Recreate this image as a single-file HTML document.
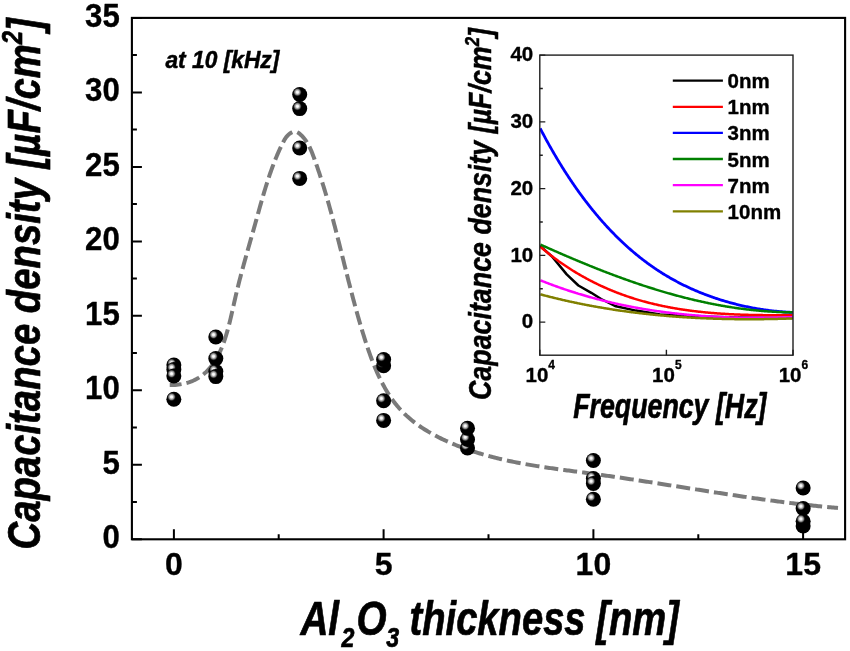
<!DOCTYPE html>
<html><head><meta charset="utf-8"><style>
html,body{margin:0;padding:0;background:#fff;}
body{width:850px;height:651px;overflow:hidden;}
svg{display:block;will-change:transform;}
text{font-family:"Liberation Sans",sans-serif;font-weight:bold;fill:#000;stroke:#000;stroke-width:0.35px;stroke-linejoin:round;}
</style></head><body>
<svg width="850" height="651" viewBox="0 0 850 651">
<defs>
<radialGradient id="hl" cx="0.5" cy="0.5" r="0.5">
<stop offset="0" stop-color="#fff" stop-opacity="1"/>
<stop offset="0.25" stop-color="#f2f2f2" stop-opacity="1"/>
<stop offset="0.62" stop-color="#aaa" stop-opacity="0.75"/>
<stop offset="1" stop-color="#000" stop-opacity="0"/>
</radialGradient>
<g id="mk"><circle r="7.5" fill="#000"/><circle cx="-2.3" cy="-2.3" r="4.6" fill="url(#hl)"/></g>
</defs>
<rect width="850" height="651" fill="#fff"/>

<path d="M169.73,385.06 L171.57,385.06 L173.38,385.00 L175.15,384.90 L176.88,384.76 L178.57,384.58 L180.22,384.35 L181.84,384.08 L183.42,383.77 L184.96,383.42 L186.47,383.03 L187.94,382.60 L189.38,382.14 L190.78,381.63 L192.15,381.09 L193.49,380.51 L194.79,379.90 L196.07,379.25 L197.31,378.57 L198.52,377.85 L199.70,377.10 L200.85,376.32 L201.97,375.50 L203.06,374.66 L204.13,373.78 L205.17,372.88 L206.18,371.94 L207.16,370.98 L208.12,369.99 L209.05,368.97 L209.96,367.93 L210.84,366.86 L211.70,365.77 L212.54,364.65 L213.35,363.50 L214.14,362.34 L214.91,361.15 L215.66,359.94 L216.39,358.71 L217.10,357.46 L217.78,356.18 L218.45,354.89 L219.11,353.58 L219.74,352.26 L220.35,350.91 L220.95,349.55 L221.54,348.17 L222.10,346.78 L222.66,345.38 L223.19,343.96 L223.72,342.52 L224.23,341.08 L224.72,339.62 L225.21,338.15 L225.68,336.67 L226.14,335.18 L226.59,333.68 L227.03,332.18 L227.46,330.66 L227.88,329.14 L228.30,327.61 L228.70,326.07 L229.10,324.53 L229.49,322.99 L229.87,321.44 L230.25,319.89 L230.62,318.34 L230.98,316.78 L231.35,315.22 L231.70,313.66 L232.06,312.11 L232.41,310.55 L232.76,308.99 L233.11,307.44 L233.46,305.89 L233.80,304.34 L234.15,302.80 L234.50,301.26 L234.85,299.72 L235.20,298.19 L235.55,296.67 L235.90,295.16 L236.26,293.65 L236.62,292.15 L236.98,290.65 L237.34,289.16 L237.70,287.68 L238.07,286.20 L238.43,284.72 L238.80,283.25 L239.17,281.79 L239.55,280.33 L239.92,278.88 L240.30,277.43 L240.67,275.98 L241.05,274.54 L241.43,273.10 L241.82,271.66 L242.20,270.23 L242.58,268.80 L242.97,267.37 L243.36,265.95 L243.74,264.53 L244.13,263.11 L244.52,261.69 L244.91,260.28 L245.31,258.86 L245.70,257.45 L246.09,256.04 L246.49,254.63 L246.88,253.22 L247.28,251.81 L247.68,250.41 L248.08,249.00 L248.47,247.59 L248.87,246.19 L249.27,244.78 L249.67,243.37 L250.07,241.96 L250.47,240.55 L250.87,239.14 L251.28,237.73 L251.68,236.32 L252.08,234.90 L252.48,233.49 L252.88,232.07 L253.29,230.65 L253.69,229.23 L254.09,227.80 L254.49,226.37 L254.89,224.94 L255.29,223.51 L255.70,222.07 L256.10,220.63 L256.50,219.18 L256.90,217.74 L257.30,216.29 L257.71,214.83 L258.11,213.38 L258.51,211.92 L258.92,210.47 L259.33,209.01 L259.74,207.54 L260.15,206.08 L260.56,204.62 L260.98,203.15 L261.39,201.69 L261.81,200.22 L262.23,198.75 L262.66,197.29 L263.09,195.82 L263.52,194.35 L263.95,192.89 L264.39,191.42 L264.83,189.96 L265.28,188.49 L265.72,187.03 L266.18,185.57 L266.64,184.11 L267.10,182.65 L267.57,181.20 L268.04,179.74 L268.51,178.29 L269.00,176.84 L269.48,175.40 L269.98,173.95 L270.48,172.51 L270.98,171.07 L271.49,169.64 L272.01,168.21 L272.53,166.78 L273.07,165.36 L273.60,163.94 L274.15,162.53 L274.70,161.12 L275.26,159.71 L275.82,158.31 L276.40,156.92 L276.98,155.53 L277.57,154.15 L278.17,152.77 L278.78,151.39 L279.39,150.03 L280.02,148.67 L280.65,147.31 L281.29,145.97 L281.95,144.63 L282.61,143.29 L283.28,141.97 L283.98,140.65 L284.72,139.36 L285.54,138.09 L286.47,136.85 L287.52,135.66 L288.71,134.52 L290.02,133.49 L291.40,132.64 L292.83,132.03 L294.26,131.72 L295.65,131.78 L296.99,132.18 L298.27,132.84 L299.50,133.70 L300.67,134.68 L301.77,135.72 L302.82,136.81 L303.81,137.94 L304.74,139.10 L305.63,140.30 L306.47,141.54 L307.27,142.80 L308.02,144.10 L308.74,145.42 L309.42,146.76 L310.08,148.12 L310.70,149.51 L311.30,150.91 L311.88,152.32 L312.45,153.74 L312.99,155.18 L313.53,156.61 L314.06,158.05 L314.58,159.50 L315.09,160.94 L315.61,162.38 L316.11,163.82 L316.62,165.27 L317.12,166.71 L317.61,168.16 L318.10,169.60 L318.59,171.04 L319.07,172.49 L319.55,173.93 L320.02,175.38 L320.50,176.82 L320.96,178.27 L321.43,179.72 L321.89,181.16 L322.34,182.61 L322.80,184.05 L323.24,185.50 L323.69,186.95 L324.13,188.40 L324.57,189.84 L325.01,191.29 L325.44,192.74 L325.87,194.19 L326.30,195.63 L326.72,197.08 L327.15,198.53 L327.56,199.98 L327.98,201.43 L328.39,202.88 L328.80,204.33 L329.21,205.78 L329.62,207.23 L330.02,208.68 L330.42,210.13 L330.82,211.58 L331.22,213.03 L331.61,214.48 L332.01,215.94 L332.40,217.39 L332.79,218.84 L333.17,220.29 L333.56,221.74 L333.94,223.20 L334.32,224.65 L334.71,226.10 L335.08,227.55 L335.46,229.01 L335.84,230.46 L336.21,231.91 L336.59,233.37 L336.96,234.82 L337.33,236.27 L337.70,237.73 L338.07,239.18 L338.44,240.64 L338.81,242.09 L339.17,243.55 L339.54,245.00 L339.90,246.46 L340.27,247.91 L340.63,249.37 L341.00,250.82 L341.36,252.28 L341.72,253.73 L342.09,255.19 L342.45,256.65 L342.81,258.10 L343.18,259.56 L343.54,261.02 L343.90,262.47 L344.26,263.93 L344.63,265.39 L344.99,266.84 L345.36,268.30 L345.72,269.76 L346.08,271.22 L346.45,272.67 L346.82,274.13 L347.18,275.59 L347.55,277.05 L347.92,278.51 L348.29,279.96 L348.66,281.42 L349.03,282.88 L349.40,284.34 L349.78,285.80 L350.15,287.26 L350.53,288.72 L350.90,290.18 L351.28,291.64 L351.66,293.09 L352.05,294.55 L352.43,296.01 L352.81,297.47 L353.20,298.93 L353.59,300.39 L353.98,301.85 L354.37,303.31 L354.77,304.77 L355.17,306.23 L355.57,307.69 L355.97,309.15 L356.37,310.61 L356.78,312.07 L357.18,313.53 L357.60,314.99 L358.01,316.46 L358.43,317.92 L358.84,319.38 L359.27,320.84 L359.69,322.30 L360.12,323.76 L360.55,325.22 L360.98,326.68 L361.42,328.14 L361.86,329.60 L362.30,331.07 L362.75,332.53 L363.20,333.99 L363.65,335.45 L364.10,336.91 L364.56,338.37 L365.03,339.83 L365.50,341.30 L365.97,342.76 L366.44,344.21 L366.93,345.67 L367.41,347.13 L367.90,348.59 L368.40,350.04 L368.90,351.49 L369.41,352.94 L369.92,354.38 L370.44,355.83 L370.97,357.27 L371.50,358.70 L372.05,360.14 L372.59,361.57 L373.15,362.99 L373.71,364.41 L374.28,365.83 L374.86,367.24 L375.45,368.64 L376.05,370.04 L376.65,371.43 L377.27,372.82 L377.89,374.20 L378.53,375.58 L379.17,376.95 L379.83,378.31 L380.49,379.66 L381.16,381.01 L381.85,382.35 L382.55,383.68 L383.25,385.00 L383.97,386.31 L384.71,387.62 L385.45,388.91 L386.20,390.20 L386.97,391.47 L387.75,392.74 L388.55,394.00 L389.35,395.24 L390.17,396.48 L391.01,397.70 L391.86,398.92 L392.72,400.12 L393.59,401.31 L394.48,402.49 L395.39,403.65 L396.31,404.81 L397.25,405.95 L398.20,407.07 L399.17,408.19 L400.15,409.29 L401.15,410.38 L402.16,411.45 L403.20,412.51 L404.25,413.56 L405.31,414.59 L406.40,415.60 L407.49,416.61 L408.61,417.59 L409.74,418.57 L410.88,419.53 L412.04,420.48 L413.21,421.41 L414.39,422.33 L415.59,423.24 L416.80,424.13 L418.03,425.01 L419.26,425.88 L420.51,426.74 L421.77,427.58 L423.03,428.41 L424.31,429.23 L425.60,430.04 L426.90,430.83 L428.21,431.61 L429.52,432.39 L430.85,433.15 L432.18,433.89 L433.52,434.63 L434.87,435.36 L436.22,436.07 L437.58,436.78 L438.95,437.47 L440.32,438.16 L441.70,438.83 L443.08,439.49 L444.46,440.14 L445.85,440.79 L447.25,441.42 L448.65,442.04 L450.05,442.65 L451.45,443.26 L452.85,443.85 L454.26,444.44 L455.67,445.02 L457.08,445.58 L458.49,446.14 L459.91,446.69 L461.33,447.23 L462.75,447.76 L464.17,448.29 L465.59,448.80 L467.02,449.31 L468.45,449.81 L469.88,450.30 L471.31,450.78 L472.74,451.26 L474.18,451.73 L475.62,452.19 L477.05,452.64 L478.50,453.09 L479.94,453.52 L481.38,453.96 L482.83,454.38 L484.28,454.80 L485.73,455.21 L487.18,455.61 L488.63,456.01 L490.09,456.40 L491.54,456.78 L493.00,457.16 L494.46,457.53 L495.92,457.90 L497.38,458.25 L498.84,458.61 L500.31,458.96 L501.77,459.30 L503.24,459.63 L504.71,459.97 L506.18,460.29 L507.65,460.61 L509.13,460.93 L510.60,461.24 L512.07,461.54 L513.55,461.84 L515.03,462.14 L516.51,462.43 L517.99,462.72 L519.47,463.00 L520.95,463.28 L522.43,463.56 L523.91,463.83 L525.40,464.09 L526.88,464.35 L528.37,464.61 L529.86,464.87 L531.35,465.12 L532.84,465.37 L534.33,465.61 L535.82,465.86 L537.31,466.10 L538.80,466.33 L540.29,466.57 L541.79,466.80 L543.28,467.02 L544.77,467.25 L546.27,467.47 L547.77,467.69 L549.26,467.91 L550.76,468.13 L552.26,468.34 L553.75,468.55 L555.25,468.77 L556.75,468.97 L558.25,469.18 L559.75,469.39 L561.25,469.59 L562.75,469.80 L564.25,470.00 L565.75,470.20 L567.25,470.40 L568.75,470.60 L570.25,470.80 L571.76,471.00 L573.26,471.20 L574.76,471.40 L576.26,471.59 L577.76,471.79 L579.27,471.99 L580.77,472.19 L582.27,472.38 L583.77,472.58 L585.27,472.78 L586.77,472.98 L588.28,473.18 L589.78,473.38 L591.28,473.58 L592.78,473.78 L594.28,473.99 L595.78,474.19 L597.28,474.40 L598.78,474.60 L600.28,474.81 L601.78,475.02 L603.28,475.23 L604.78,475.44 L606.28,475.65 L607.77,475.86 L609.27,476.08 L610.77,476.29 L612.27,476.50 L613.77,476.72 L615.26,476.94 L616.76,477.16 L618.26,477.37 L619.75,477.59 L621.25,477.81 L622.75,478.03 L624.24,478.26 L625.74,478.48 L627.24,478.70 L628.73,478.92 L630.23,479.15 L631.72,479.37 L633.22,479.60 L634.71,479.83 L636.21,480.05 L637.70,480.28 L639.20,480.51 L640.69,480.74 L642.19,480.97 L643.68,481.19 L645.17,481.42 L646.67,481.65 L648.16,481.89 L649.66,482.12 L651.15,482.35 L652.64,482.58 L654.14,482.81 L655.63,483.05 L657.12,483.28 L658.62,483.51 L660.11,483.75 L661.60,483.98 L663.09,484.21 L664.59,484.45 L666.08,484.68 L667.57,484.92 L669.06,485.15 L670.56,485.39 L672.05,485.62 L673.54,485.86 L675.03,486.09 L676.52,486.33 L678.02,486.56 L679.51,486.80 L681.00,487.03 L682.49,487.27 L683.98,487.50 L685.47,487.74 L686.97,487.97 L688.46,488.21 L689.95,488.44 L691.44,488.68 L692.93,488.91 L694.42,489.15 L695.91,489.38 L697.41,489.62 L698.90,489.85 L700.39,490.08 L701.88,490.32 L703.37,490.55 L704.86,490.78 L706.35,491.02 L707.85,491.25 L709.34,491.48 L710.83,491.71 L712.32,491.94 L713.81,492.17 L715.30,492.40 L716.79,492.63 L718.29,492.86 L719.78,493.09 L721.27,493.32 L722.76,493.55 L724.25,493.78 L725.74,494.00 L727.24,494.23 L728.73,494.45 L730.22,494.68 L731.71,494.90 L733.20,495.13 L734.69,495.35 L736.19,495.57 L737.68,495.79 L739.17,496.01 L740.66,496.23 L742.16,496.45 L743.65,496.67 L745.14,496.89 L746.63,497.11 L748.13,497.32 L749.62,497.54 L751.11,497.75 L752.61,497.96 L754.10,498.18 L755.59,498.39 L757.09,498.60 L758.58,498.81 L760.07,499.01 L761.57,499.22 L763.06,499.43 L764.55,499.63 L766.05,499.84 L767.54,500.04 L769.04,500.24 L770.53,500.44 L772.03,500.64 L773.52,500.84 L775.02,501.04 L776.51,501.23 L778.01,501.43 L779.50,501.62 L781.00,501.81 L782.49,502.00 L783.99,502.19 L785.49,502.38 L786.98,502.57 L788.48,502.75 L789.98,502.94 L791.47,503.12 L792.97,503.30 L794.47,503.48 L795.97,503.66 L797.46,503.84 L798.96,504.01 L800.46,504.18 L801.96,504.36 L803.46,504.53 L804.96,504.70 L806.46,504.86 L807.96,505.03 L809.46,505.19 L810.95,505.36 L812.46,505.52 L813.96,505.68 L815.46,505.83 L816.96,505.99 L818.46,506.14 L819.96,506.29 L821.46,506.44 L822.96,506.59 L824.47,506.74 L825.97,506.88 L827.47,507.03 L828.97,507.17 L830.48,507.31 L831.98,507.44 L833.48,507.58 L834.99,507.71 L836.49,507.84 L838.00,507.97" fill="none" stroke="#7a7a7a" stroke-width="4.0" stroke-dasharray="14 5.04" stroke-dashoffset="2.14"/>
<use href="#mk" x="173.85" y="365.00"/>
<use href="#mk" x="173.85" y="369.50"/>
<use href="#mk" x="173.85" y="376.00"/>
<use href="#mk" x="173.85" y="399.20"/>
<use href="#mk" x="215.81" y="337.00"/>
<use href="#mk" x="215.81" y="358.60"/>
<use href="#mk" x="215.81" y="371.50"/>
<use href="#mk" x="215.81" y="376.60"/>
<use href="#mk" x="299.71" y="94.50"/>
<use href="#mk" x="299.71" y="108.60"/>
<use href="#mk" x="299.71" y="148.00"/>
<use href="#mk" x="299.71" y="178.40"/>
<use href="#mk" x="383.62" y="420.40"/>
<use href="#mk" x="383.62" y="400.80"/>
<use href="#mk" x="383.62" y="365.70"/>
<use href="#mk" x="383.62" y="359.60"/>
<use href="#mk" x="467.52" y="448.00"/>
<use href="#mk" x="467.52" y="439.50"/>
<use href="#mk" x="467.52" y="428.20"/>
<use href="#mk" x="593.38" y="460.50"/>
<use href="#mk" x="593.38" y="478.50"/>
<use href="#mk" x="593.38" y="483.50"/>
<use href="#mk" x="593.38" y="499.30"/>
<use href="#mk" x="803.15" y="488.00"/>
<use href="#mk" x="803.15" y="508.50"/>
<use href="#mk" x="803.15" y="526.00"/>
<use href="#mk" x="803.15" y="521.20"/>
<rect x="131.9" y="17.9" width="713.2" height="521.4" fill="none" stroke="#000" stroke-width="2.1"/>
<path d="M131.9,539.3h10 M131.9,464.8h10 M131.9,390.3h10 M131.9,315.8h10 M131.9,241.4h10 M131.9,166.9h10 M131.9,92.4h10 M131.9,17.9h10 M131.9,502.1h5 M131.9,427.6h5 M131.9,353.1h5 M131.9,278.6h5 M131.9,204.1h5 M131.9,129.6h5 M131.9,55.1h5 M173.9,539.3v-10 M383.6,539.3v-10 M593.4,539.3v-10 M803.1,539.3v-10 M278.7,539.3v-5 M488.5,539.3v-5 M698.3,539.3v-5" stroke="#000" stroke-width="2" fill="none"/>
<g transform="translate(119.80,548.10) scale(0.96,1)"><text x="0" y="0" font-size="32.5" text-anchor="end">0</text></g>
<g transform="translate(119.80,473.61) scale(0.96,1)"><text x="0" y="0" font-size="32.5" text-anchor="end">5</text></g>
<g transform="translate(119.80,399.13) scale(0.96,1)"><text x="0" y="0" font-size="32.5" text-anchor="end">10</text></g>
<g transform="translate(119.80,324.64) scale(0.96,1)"><text x="0" y="0" font-size="32.5" text-anchor="end">15</text></g>
<g transform="translate(119.80,250.16) scale(0.96,1)"><text x="0" y="0" font-size="32.5" text-anchor="end">20</text></g>
<g transform="translate(119.80,175.67) scale(0.96,1)"><text x="0" y="0" font-size="32.5" text-anchor="end">25</text></g>
<g transform="translate(119.80,101.19) scale(0.96,1)"><text x="0" y="0" font-size="32.5" text-anchor="end">30</text></g>
<g transform="translate(119.80,26.70) scale(0.96,1)"><text x="0" y="0" font-size="32.5" text-anchor="end">35</text></g>
<g transform="translate(173.85,575.00) scale(1,1)"><text x="0" y="0" font-size="32" text-anchor="middle">0</text></g>
<g transform="translate(383.62,575.00) scale(1,1)"><text x="0" y="0" font-size="32" text-anchor="middle">5</text></g>
<g transform="translate(593.38,575.00) scale(1,1)"><text x="0" y="0" font-size="32" text-anchor="middle">10</text></g>
<g transform="translate(803.15,575.00) scale(1,1)"><text x="0" y="0" font-size="32" text-anchor="middle">15</text></g>
<g transform="translate(165.40,67.50) scale(0.938,1)"><text x="0" y="0" font-size="24.3" font-style="italic" style="stroke-width:0.5px">at 10 [kHz]</text></g>
<g transform="translate(300.40,635.00) scale(0.815,1)"><text x="0" y="0" font-size="47.5" font-style="italic" style="stroke-width:0.7px">Al<tspan font-size="28.5" dy="11.6" dx="3.0">2</tspan><tspan dy="-11.6" dx="2.5">O</tspan><tspan font-size="28.5" dy="11.6" dx="-0.5">3</tspan></text></g>
<g transform="translate(409.50,635.00) scale(0.804,1)"><text x="0" y="0" font-size="47.5" font-style="italic" style="stroke-width:0.7px">thickness [nm]</text></g>
<g transform="translate(39.60,549.50) rotate(-90) scale(0.824,1)"><text x="0" y="0" font-size="46.5" font-style="italic" style="stroke-width:0.7px">Capacitance density [µF/cm<tspan font-size="29" dy="-17.2">2</tspan><tspan dy="17.2">]</tspan></text></g>
<clipPath id="ic"><rect x="539.8" y="55.1" width="253.2" height="300.1"/></clipPath>
<g clip-path="url(#ic)">
<path d="M540.3,246.1 L552,256.5 L566.7,274.4 L578.4,285.5 L591.3,292.8 L601.1,299 L615.9,306.3 L636,310.6 L660,314.4 L700,316.5 L740,317.4 L792.7,318" fill="none" stroke="#000000" stroke-width="2.5" stroke-linejoin="round"/>
<path d="M540.37,246.75 L541.07,247.35 L541.77,247.95 L542.47,248.54 L543.17,249.13 L543.88,249.72 L544.59,250.31 L545.30,250.89 L546.01,251.47 L546.72,252.05 L547.43,252.63 L548.15,253.20 L548.87,253.77 L549.58,254.34 L550.30,254.90 L551.03,255.46 L551.75,256.02 L552.47,256.57 L553.20,257.12 L553.93,257.67 L554.66,258.22 L555.39,258.76 L556.12,259.30 L556.85,259.84 L557.59,260.37 L558.32,260.91 L559.06,261.43 L559.80,261.96 L560.54,262.48 L561.28,263.00 L562.03,263.52 L562.77,264.03 L563.52,264.55 L564.27,265.05 L565.01,265.56 L565.77,266.06 L566.52,266.56 L567.27,267.06 L568.03,267.56 L568.78,268.05 L569.54,268.54 L570.30,269.02 L571.06,269.50 L571.82,269.98 L572.58,270.46 L573.35,270.94 L574.11,271.41 L574.88,271.88 L575.65,272.34 L576.42,272.81 L577.19,273.27 L577.96,273.72 L578.73,274.18 L579.51,274.63 L580.29,275.08 L581.06,275.53 L581.84,275.97 L582.62,276.41 L583.40,276.85 L584.18,277.28 L584.97,277.71 L585.75,278.14 L586.54,278.57 L587.33,278.99 L588.12,279.41 L588.91,279.83 L589.70,280.25 L590.49,280.66 L591.28,281.07 L592.08,281.48 L592.87,281.88 L593.67,282.28 L594.47,282.68 L595.27,283.08 L596.07,283.47 L596.87,283.86 L597.67,284.25 L598.47,284.63 L599.28,285.01 L600.09,285.39 L600.89,285.77 L601.70,286.14 L602.51,286.51 L603.32,286.88 L604.13,287.25 L604.95,287.61 L605.76,287.97 L606.57,288.33 L607.39,288.68 L608.21,289.03 L609.03,289.38 L609.85,289.73 L610.67,290.07 L611.49,290.41 L612.31,290.75 L613.13,291.08 L613.96,291.41 L614.78,291.74 L615.61,292.07 L616.44,292.39 L617.26,292.72 L618.09,293.03 L618.92,293.35 L619.76,293.66 L620.59,293.97 L621.42,294.28 L622.26,294.59 L623.09,294.89 L623.93,295.19 L624.76,295.48 L625.60,295.78 L626.44,296.07 L627.28,296.36 L628.12,296.64 L628.96,296.93 L629.81,297.21 L630.65,297.48 L631.49,297.76 L632.34,298.03 L633.19,298.30 L634.03,298.57 L634.88,298.83 L635.73,299.09 L636.58,299.35 L637.43,299.61 L638.28,299.86 L639.13,300.11 L639.99,300.36 L640.84,300.61 L641.69,300.85 L642.55,301.09 L643.41,301.33 L644.26,301.56 L645.12,301.80 L645.98,302.03 L646.84,302.25 L647.70,302.48 L648.56,302.70 L649.42,302.92 L650.28,303.14 L651.15,303.35 L652.01,303.57 L652.87,303.78 L653.74,303.98 L654.61,304.19 L655.47,304.39 L656.34,304.59 L657.21,304.79 L658.08,304.99 L658.95,305.18 L659.82,305.37 L660.69,305.56 L661.56,305.75 L662.43,305.93 L663.30,306.11 L664.18,306.29 L665.05,306.47 L665.92,306.64 L666.80,306.82 L667.67,306.99 L668.55,307.16 L669.43,307.32 L670.30,307.49 L671.18,307.65 L672.06,307.81 L672.94,307.96 L673.82,308.12 L674.70,308.27 L675.58,308.42 L676.46,308.57 L677.34,308.72 L678.23,308.86 L679.11,309.01 L679.99,309.15 L680.87,309.29 L681.76,309.42 L682.64,309.56 L683.53,309.69 L684.41,309.82 L685.30,309.95 L686.19,310.08 L687.07,310.20 L687.96,310.32 L688.85,310.45 L689.74,310.56 L690.63,310.68 L691.51,310.80 L692.40,310.91 L693.29,311.02 L694.18,311.13 L695.07,311.24 L695.96,311.35 L696.86,311.45 L697.75,311.55 L698.64,311.65 L699.53,311.75 L700.42,311.85 L701.32,311.95 L702.21,312.04 L703.10,312.13 L704.00,312.22 L704.89,312.31 L705.78,312.40 L706.68,312.48 L707.57,312.57 L708.47,312.65 L709.36,312.73 L710.26,312.81 L711.16,312.89 L712.05,312.96 L712.95,313.04 L713.84,313.11 L714.74,313.18 L715.64,313.25 L716.54,313.32 L717.43,313.39 L718.33,313.45 L719.23,313.52 L720.13,313.58 L721.02,313.64 L721.92,313.70 L722.82,313.76 L723.72,313.81 L724.62,313.87 L725.52,313.92 L726.41,313.98 L727.31,314.03 L728.21,314.08 L729.11,314.13 L730.01,314.17 L730.91,314.22 L731.81,314.26 L732.71,314.31 L733.61,314.35 L734.51,314.39 L735.41,314.43 L736.31,314.47 L737.21,314.51 L738.11,314.54 L739.00,314.58 L739.90,314.61 L740.80,314.64 L741.70,314.68 L742.60,314.71 L743.50,314.74 L744.40,314.76 L745.30,314.79 L746.20,314.82 L747.10,314.84 L748.00,314.87 L748.90,314.89 L749.80,314.91 L750.70,314.93 L751.60,314.95 L752.50,314.97 L753.39,314.99 L754.29,315.00 L755.19,315.02 L756.09,315.04 L756.99,315.05 L757.89,315.06 L758.78,315.08 L759.68,315.09 L760.58,315.10 L761.48,315.11 L762.37,315.12 L763.27,315.13 L764.17,315.13 L765.07,315.14 L765.96,315.14 L766.86,315.15 L767.75,315.15 L768.65,315.16 L769.55,315.16 L770.44,315.16 L771.34,315.16 L772.23,315.16 L773.13,315.16 L774.02,315.16 L774.91,315.16 L775.81,315.16 L776.70,315.16 L777.59,315.15 L778.49,315.15 L779.38,315.15 L780.27,315.14 L781.16,315.14 L782.06,315.13 L782.95,315.12 L783.84,315.12 L784.73,315.11 L785.62,315.10 L786.51,315.09 L787.40,315.08 L788.29,315.07 L789.18,315.06 L790.06,315.05 L790.95,315.04 L791.84,315.03 L792.73,315.02" fill="none" stroke="#ff0000" stroke-width="2.5" stroke-linejoin="round"/>
<path d="M540.21,128.45 L540.71,129.42 L541.22,130.38 L541.73,131.35 L542.24,132.32 L542.75,133.28 L543.27,134.25 L543.78,135.22 L544.30,136.18 L544.82,137.15 L545.34,138.11 L545.87,139.07 L546.39,140.04 L546.92,141.00 L547.45,141.96 L547.98,142.92 L548.52,143.89 L549.06,144.85 L549.59,145.81 L550.13,146.76 L550.68,147.72 L551.22,148.68 L551.77,149.64 L552.32,150.59 L552.87,151.55 L553.42,152.50 L553.97,153.46 L554.53,154.41 L555.09,155.36 L555.65,156.31 L556.21,157.26 L556.78,158.21 L557.34,159.16 L557.91,160.11 L558.48,161.05 L559.06,162.00 L559.63,162.94 L560.21,163.89 L560.79,164.83 L561.37,165.77 L561.96,166.71 L562.54,167.65 L563.13,168.58 L563.72,169.52 L564.31,170.45 L564.91,171.39 L565.51,172.32 L566.10,173.25 L566.71,174.18 L567.31,175.11 L567.92,176.04 L568.52,176.96 L569.13,177.89 L569.75,178.81 L570.36,179.73 L570.98,180.65 L571.60,181.57 L572.22,182.48 L572.84,183.40 L573.47,184.31 L574.10,185.23 L574.73,186.14 L575.36,187.04 L575.99,187.95 L576.63,188.86 L577.27,189.76 L577.91,190.66 L578.56,191.56 L579.20,192.46 L579.85,193.36 L580.50,194.25 L581.16,195.15 L581.81,196.04 L582.47,196.93 L583.13,197.81 L583.79,198.70 L584.46,199.58 L585.13,200.47 L585.80,201.34 L586.47,202.22 L587.14,203.10 L587.82,203.97 L588.50,204.84 L589.18,205.71 L589.87,206.58 L590.55,207.44 L591.24,208.31 L591.94,209.17 L592.63,210.03 L593.33,210.88 L594.03,211.74 L594.73,212.59 L595.43,213.44 L596.14,214.28 L596.85,215.13 L597.56,215.97 L598.27,216.81 L598.99,217.65 L599.71,218.48 L600.43,219.32 L601.15,220.15 L601.88,220.97 L602.61,221.80 L603.34,222.62 L604.07,223.44 L604.81,224.26 L605.55,225.07 L606.29,225.88 L607.03,226.69 L607.78,227.50 L608.53,228.30 L609.28,229.11 L610.04,229.90 L610.79,230.70 L611.55,231.49 L612.31,232.28 L613.08,233.07 L613.85,233.85 L614.62,234.64 L615.39,235.42 L616.16,236.19 L616.94,236.96 L617.72,237.73 L618.51,238.50 L619.29,239.26 L620.08,240.02 L620.87,240.78 L621.67,241.54 L622.46,242.29 L623.26,243.04 L624.06,243.78 L624.87,244.52 L625.68,245.26 L626.49,246.00 L627.30,246.73 L628.11,247.46 L628.93,248.18 L629.75,248.91 L630.58,249.63 L631.40,250.34 L632.23,251.05 L633.06,251.76 L633.90,252.47 L634.74,253.17 L635.58,253.87 L636.42,254.57 L637.27,255.26 L638.12,255.95 L638.97,256.63 L639.82,257.31 L640.68,257.99 L641.54,258.66 L642.40,259.33 L643.27,260.00 L644.13,260.66 L645.01,261.32 L645.88,261.98 L646.76,262.63 L647.64,263.27 L648.52,263.92 L649.41,264.56 L650.29,265.20 L651.19,265.83 L652.08,266.46 L652.98,267.08 L653.88,267.70 L654.78,268.32 L655.69,268.93 L656.59,269.54 L657.51,270.14 L658.42,270.75 L659.34,271.34 L660.26,271.93 L661.18,272.52 L662.11,273.11 L663.04,273.69 L663.97,274.26 L664.91,274.84 L665.85,275.40 L666.79,275.97 L667.73,276.53 L668.68,277.08 L669.63,277.63 L670.58,278.18 L671.54,278.72 L672.50,279.26 L673.46,279.79 L674.42,280.32 L675.39,280.84 L676.36,281.37 L677.33,281.88 L678.31,282.39 L679.28,282.90 L680.26,283.41 L681.25,283.91 L682.23,284.40 L683.22,284.89 L684.21,285.38 L685.20,285.86 L686.20,286.34 L687.19,286.81 L688.19,287.28 L689.19,287.75 L690.20,288.21 L691.20,288.67 L692.21,289.12 L693.22,289.57 L694.24,290.01 L695.25,290.45 L696.27,290.89 L697.29,291.32 L698.31,291.74 L699.33,292.17 L700.36,292.59 L701.39,293.00 L702.41,293.41 L703.45,293.82 L704.48,294.22 L705.51,294.61 L706.55,295.01 L707.59,295.39 L708.63,295.78 L709.67,296.16 L710.71,296.53 L711.76,296.90 L712.80,297.27 L713.85,297.63 L714.90,297.99 L715.95,298.35 L717.01,298.70 L718.06,299.04 L719.12,299.38 L720.17,299.72 L721.23,300.05 L722.29,300.38 L723.35,300.70 L724.42,301.02 L725.48,301.34 L726.54,301.65 L727.61,301.95 L728.68,302.26 L729.75,302.55 L730.82,302.85 L731.89,303.14 L732.96,303.42 L734.03,303.70 L735.11,303.98 L736.18,304.25 L737.26,304.52 L738.33,304.78 L739.41,305.04 L740.49,305.29 L741.57,305.54 L742.65,305.79 L743.73,306.03 L744.81,306.27 L745.89,306.50 L746.98,306.73 L748.06,306.95 L749.14,307.17 L750.23,307.39 L751.31,307.60 L752.40,307.81 L753.49,308.01 L754.57,308.21 L755.66,308.40 L756.75,308.59 L757.84,308.78 L758.93,308.96 L760.01,309.13 L761.10,309.30 L762.19,309.47 L763.28,309.64 L764.37,309.79 L765.46,309.95 L766.55,310.10 L767.64,310.24 L768.73,310.39 L769.82,310.52 L770.91,310.65 L772.00,310.78 L773.10,310.91 L774.19,311.03 L775.28,311.14 L776.37,311.25 L777.46,311.36 L778.55,311.46 L779.64,311.56 L780.73,311.65 L781.81,311.74 L782.90,311.82 L783.99,311.90 L785.08,311.98 L786.17,312.05 L787.26,312.12 L788.34,312.18 L789.43,312.24 L790.51,312.29 L791.60,312.34 L792.69,312.39" fill="none" stroke="#0000ff" stroke-width="2.8" stroke-linejoin="round"/>
<path d="M540.44,244.58 L541.24,244.94 L542.04,245.30 L542.84,245.66 L543.64,246.02 L544.45,246.38 L545.25,246.74 L546.05,247.10 L546.85,247.45 L547.66,247.81 L548.46,248.17 L549.26,248.53 L550.07,248.88 L550.87,249.24 L551.67,249.60 L552.48,249.95 L553.28,250.31 L554.09,250.66 L554.89,251.02 L555.70,251.37 L556.51,251.72 L557.31,252.08 L558.12,252.43 L558.92,252.78 L559.73,253.13 L560.54,253.48 L561.34,253.83 L562.15,254.18 L562.96,254.53 L563.77,254.88 L564.58,255.23 L565.39,255.58 L566.19,255.93 L567.00,256.28 L567.81,256.62 L568.62,256.97 L569.43,257.32 L570.24,257.66 L571.05,258.01 L571.86,258.35 L572.67,258.69 L573.49,259.04 L574.30,259.38 L575.11,259.72 L575.92,260.06 L576.73,260.40 L577.55,260.74 L578.36,261.08 L579.17,261.42 L579.99,261.76 L580.80,262.10 L581.61,262.44 L582.43,262.77 L583.24,263.11 L584.06,263.45 L584.87,263.78 L585.69,264.11 L586.50,264.45 L587.32,264.78 L588.13,265.11 L588.95,265.44 L589.77,265.78 L590.58,266.11 L591.40,266.44 L592.22,266.76 L593.04,267.09 L593.85,267.42 L594.67,267.75 L595.49,268.07 L596.31,268.40 L597.13,268.72 L597.95,269.05 L598.77,269.37 L599.59,269.69 L600.41,270.02 L601.23,270.34 L602.05,270.66 L602.87,270.98 L603.69,271.30 L604.51,271.61 L605.34,271.93 L606.16,272.25 L606.98,272.56 L607.80,272.88 L608.63,273.19 L609.45,273.50 L610.27,273.82 L611.10,274.13 L611.92,274.44 L612.75,274.75 L613.57,275.06 L614.40,275.37 L615.22,275.67 L616.05,275.98 L616.87,276.29 L617.70,276.59 L618.53,276.90 L619.35,277.20 L620.18,277.50 L621.01,277.80 L621.83,278.10 L622.66,278.40 L623.49,278.70 L624.32,279.00 L625.15,279.30 L625.98,279.59 L626.81,279.89 L627.64,280.18 L628.47,280.47 L629.30,280.77 L630.13,281.06 L630.96,281.35 L631.79,281.64 L632.62,281.93 L633.45,282.21 L634.28,282.50 L635.12,282.78 L635.95,283.07 L636.78,283.35 L637.62,283.64 L638.45,283.92 L639.28,284.20 L640.12,284.48 L640.95,284.75 L641.79,285.03 L642.62,285.31 L643.46,285.58 L644.29,285.86 L645.13,286.13 L645.96,286.40 L646.80,286.67 L647.64,286.94 L648.47,287.21 L649.31,287.48 L650.15,287.75 L650.99,288.01 L651.83,288.28 L652.66,288.54 L653.50,288.80 L654.34,289.06 L655.18,289.32 L656.02,289.58 L656.86,289.84 L657.70,290.10 L658.54,290.35 L659.38,290.61 L660.23,290.86 L661.07,291.11 L661.91,291.36 L662.75,291.61 L663.59,291.86 L664.44,292.11 L665.28,292.35 L666.12,292.60 L666.97,292.84 L667.81,293.08 L668.66,293.33 L669.50,293.56 L670.35,293.80 L671.19,294.04 L672.04,294.28 L672.88,294.51 L673.73,294.75 L674.58,294.98 L675.42,295.21 L676.27,295.44 L677.12,295.67 L677.97,295.90 L678.81,296.12 L679.66,296.35 L680.51,296.57 L681.36,296.79 L682.21,297.01 L683.06,297.23 L683.91,297.45 L684.76,297.67 L685.61,297.88 L686.46,298.10 L687.31,298.31 L688.17,298.52 L689.02,298.73 L689.87,298.94 L690.72,299.15 L691.58,299.35 L692.43,299.56 L693.28,299.76 L694.14,299.96 L694.99,300.16 L695.84,300.36 L696.70,300.56 L697.55,300.76 L698.41,300.95 L699.27,301.14 L700.12,301.34 L700.98,301.53 L701.84,301.72 L702.69,301.90 L703.55,302.09 L704.41,302.27 L705.27,302.46 L706.13,302.64 L706.98,302.82 L707.84,303.00 L708.70,303.17 L709.56,303.35 L710.42,303.52 L711.28,303.70 L712.14,303.87 L713.00,304.04 L713.87,304.21 L714.73,304.37 L715.59,304.54 L716.45,304.70 L717.32,304.86 L718.18,305.02 L719.04,305.18 L719.91,305.34 L720.77,305.49 L721.63,305.65 L722.50,305.80 L723.36,305.95 L724.23,306.10 L725.10,306.25 L725.96,306.40 L726.83,306.54 L727.69,306.68 L728.56,306.82 L729.43,306.96 L730.30,307.10 L731.17,307.24 L732.03,307.37 L732.90,307.50 L733.77,307.64 L734.64,307.77 L735.51,307.89 L736.38,308.02 L737.25,308.14 L738.12,308.27 L738.99,308.39 L739.87,308.51 L740.74,308.63 L741.61,308.74 L742.48,308.86 L743.36,308.97 L744.23,309.08 L745.10,309.19 L745.98,309.30 L746.85,309.40 L747.73,309.50 L748.60,309.61 L749.48,309.71 L750.35,309.81 L751.23,309.90 L752.10,310.00 L752.98,310.09 L753.86,310.18 L754.73,310.27 L755.61,310.36 L756.49,310.45 L757.37,310.53 L758.25,310.61 L759.13,310.69 L760.01,310.77 L760.89,310.85 L761.77,310.92 L762.65,311.00 L763.53,311.07 L764.41,311.14 L765.29,311.20 L766.17,311.27 L767.06,311.33 L767.94,311.39 L768.82,311.45 L769.70,311.51 L770.59,311.57 L771.47,311.62 L772.36,311.67 L773.24,311.72 L774.13,311.77 L775.01,311.82 L775.90,311.86 L776.79,311.91 L777.67,311.95 L778.56,311.99 L779.45,312.02 L780.33,312.06 L781.22,312.09 L782.11,312.12 L783.00,312.15 L783.89,312.18 L784.78,312.20 L785.67,312.22 L786.56,312.24 L787.45,312.26 L788.34,312.28 L789.23,312.29 L790.12,312.31 L791.01,312.32 L791.91,312.32 L792.80,312.33" fill="none" stroke="#008000" stroke-width="2.5" stroke-linejoin="round"/>
<path d="M540.48,280.35 L541.28,280.68 L542.09,281.00 L542.90,281.32 L543.70,281.64 L544.51,281.95 L545.32,282.27 L546.12,282.58 L546.93,282.89 L547.74,283.20 L548.55,283.51 L549.36,283.82 L550.17,284.13 L550.98,284.43 L551.79,284.73 L552.60,285.03 L553.41,285.33 L554.22,285.63 L555.04,285.92 L555.85,286.22 L556.66,286.51 L557.47,286.80 L558.29,287.09 L559.10,287.38 L559.92,287.67 L560.73,287.95 L561.55,288.23 L562.36,288.52 L563.18,288.80 L563.99,289.07 L564.81,289.35 L565.63,289.63 L566.44,289.90 L567.26,290.17 L568.08,290.44 L568.90,290.71 L569.71,290.98 L570.53,291.25 L571.35,291.51 L572.17,291.78 L572.99,292.04 L573.81,292.30 L574.63,292.56 L575.45,292.81 L576.27,293.07 L577.10,293.32 L577.92,293.58 L578.74,293.83 L579.56,294.08 L580.39,294.32 L581.21,294.57 L582.03,294.82 L582.86,295.06 L583.68,295.30 L584.50,295.54 L585.33,295.78 L586.15,296.02 L586.98,296.25 L587.81,296.49 L588.63,296.72 L589.46,296.95 L590.28,297.18 L591.11,297.41 L591.94,297.64 L592.77,297.87 L593.59,298.09 L594.42,298.31 L595.25,298.54 L596.08,298.76 L596.91,298.98 L597.74,299.19 L598.57,299.41 L599.40,299.62 L600.23,299.84 L601.06,300.05 L601.89,300.26 L602.72,300.47 L603.55,300.67 L604.38,300.88 L605.21,301.08 L606.05,301.29 L606.88,301.49 L607.71,301.69 L608.55,301.89 L609.38,302.08 L610.21,302.28 L611.05,302.48 L611.88,302.67 L612.72,302.86 L613.55,303.05 L614.39,303.24 L615.22,303.43 L616.06,303.61 L616.89,303.80 L617.73,303.98 L618.56,304.17 L619.40,304.35 L620.24,304.53 L621.08,304.70 L621.91,304.88 L622.75,305.06 L623.59,305.23 L624.43,305.40 L625.27,305.57 L626.10,305.74 L626.94,305.91 L627.78,306.08 L628.62,306.25 L629.46,306.41 L630.30,306.57 L631.14,306.74 L631.98,306.90 L632.82,307.06 L633.66,307.22 L634.50,307.37 L635.35,307.53 L636.19,307.68 L637.03,307.83 L637.87,307.99 L638.71,308.14 L639.56,308.29 L640.40,308.43 L641.24,308.58 L642.09,308.73 L642.93,308.87 L643.77,309.01 L644.62,309.15 L645.46,309.29 L646.31,309.43 L647.15,309.57 L648.00,309.71 L648.84,309.84 L649.69,309.97 L650.53,310.11 L651.38,310.24 L652.22,310.37 L653.07,310.50 L653.92,310.62 L654.76,310.75 L655.61,310.88 L656.46,311.00 L657.30,311.12 L658.15,311.24 L659.00,311.36 L659.84,311.48 L660.69,311.60 L661.54,311.72 L662.39,311.83 L663.24,311.95 L664.09,312.06 L664.94,312.17 L665.78,312.28 L666.63,312.39 L667.48,312.50 L668.33,312.61 L669.18,312.71 L670.03,312.82 L670.88,312.92 L671.73,313.02 L672.58,313.12 L673.43,313.22 L674.29,313.32 L675.14,313.42 L675.99,313.51 L676.84,313.61 L677.69,313.70 L678.54,313.80 L679.39,313.89 L680.25,313.98 L681.10,314.07 L681.95,314.16 L682.80,314.24 L683.66,314.33 L684.51,314.42 L685.36,314.50 L686.21,314.58 L687.07,314.66 L687.92,314.74 L688.78,314.82 L689.63,314.90 L690.48,314.98 L691.34,315.05 L692.19,315.13 L693.05,315.20 L693.90,315.28 L694.75,315.35 L695.61,315.42 L696.46,315.49 L697.32,315.56 L698.17,315.62 L699.03,315.69 L699.89,315.75 L700.74,315.82 L701.60,315.88 L702.45,315.94 L703.31,316.00 L704.16,316.06 L705.02,316.12 L705.88,316.18 L706.73,316.24 L707.59,316.29 L708.45,316.35 L709.30,316.40 L710.16,316.45 L711.02,316.50 L711.87,316.56 L712.73,316.60 L713.59,316.65 L714.45,316.70 L715.30,316.75 L716.16,316.79 L717.02,316.84 L717.88,316.88 L718.74,316.92 L719.59,316.96 L720.45,317.00 L721.31,317.04 L722.17,317.08 L723.03,317.12 L723.89,317.16 L724.74,317.19 L725.60,317.22 L726.46,317.26 L727.32,317.29 L728.18,317.32 L729.04,317.35 L729.90,317.38 L730.76,317.41 L731.62,317.44 L732.48,317.47 L733.34,317.49 L734.20,317.52 L735.06,317.54 L735.92,317.56 L736.78,317.58 L737.64,317.61 L738.50,317.63 L739.36,317.64 L740.22,317.66 L741.08,317.68 L741.94,317.70 L742.80,317.71 L743.66,317.73 L744.52,317.74 L745.38,317.75 L746.24,317.76 L747.10,317.78 L747.96,317.79 L748.82,317.79 L749.68,317.80 L750.54,317.81 L751.40,317.82 L752.26,317.82 L753.12,317.83 L753.98,317.83 L754.85,317.83 L755.71,317.84 L756.57,317.84 L757.43,317.84 L758.29,317.84 L759.15,317.84 L760.01,317.83 L760.87,317.83 L761.74,317.83 L762.60,317.82 L763.46,317.82 L764.32,317.81 L765.18,317.80 L766.04,317.79 L766.90,317.78 L767.77,317.78 L768.63,317.76 L769.49,317.75 L770.35,317.74 L771.21,317.73 L772.07,317.71 L772.94,317.70 L773.80,317.68 L774.66,317.67 L775.52,317.65 L776.38,317.63 L777.24,317.61 L778.10,317.59 L778.97,317.57 L779.83,317.55 L780.69,317.53 L781.55,317.51 L782.41,317.49 L783.27,317.46 L784.14,317.44 L785.00,317.41 L785.86,317.38 L786.72,317.36 L787.58,317.33 L788.44,317.30 L789.31,317.27 L790.17,317.24 L791.03,317.21 L791.89,317.18 L792.75,317.15" fill="none" stroke="#ff00ff" stroke-width="2.5" stroke-linejoin="round"/>
<path d="M540.35,294.34 L541.17,294.56 L542.00,294.78 L542.82,295.00 L543.65,295.22 L544.48,295.43 L545.30,295.65 L546.13,295.86 L546.95,296.08 L547.78,296.29 L548.61,296.50 L549.44,296.71 L550.26,296.92 L551.09,297.13 L551.92,297.33 L552.75,297.54 L553.57,297.74 L554.40,297.94 L555.23,298.15 L556.06,298.35 L556.89,298.55 L557.72,298.75 L558.55,298.94 L559.38,299.14 L560.21,299.34 L561.04,299.53 L561.87,299.72 L562.70,299.92 L563.53,300.11 L564.36,300.30 L565.19,300.48 L566.02,300.67 L566.85,300.86 L567.68,301.04 L568.51,301.23 L569.35,301.41 L570.18,301.60 L571.01,301.78 L571.84,301.96 L572.67,302.14 L573.51,302.31 L574.34,302.49 L575.17,302.67 L576.01,302.84 L576.84,303.02 L577.67,303.19 L578.51,303.36 L579.34,303.53 L580.17,303.70 L581.01,303.87 L581.84,304.04 L582.68,304.20 L583.51,304.37 L584.35,304.53 L585.18,304.70 L586.02,304.86 L586.85,305.02 L587.69,305.18 L588.52,305.34 L589.36,305.50 L590.20,305.65 L591.03,305.81 L591.87,305.97 L592.70,306.12 L593.54,306.27 L594.38,306.42 L595.22,306.58 L596.05,306.73 L596.89,306.87 L597.73,307.02 L598.56,307.17 L599.40,307.32 L600.24,307.46 L601.08,307.60 L601.92,307.75 L602.75,307.89 L603.59,308.03 L604.43,308.17 L605.27,308.31 L606.11,308.45 L606.95,308.58 L607.79,308.72 L608.63,308.85 L609.47,308.99 L610.31,309.12 L611.15,309.25 L611.99,309.39 L612.83,309.52 L613.67,309.64 L614.51,309.77 L615.35,309.90 L616.19,310.03 L617.03,310.15 L617.87,310.28 L618.71,310.40 L619.55,310.52 L620.39,310.64 L621.23,310.76 L622.07,310.88 L622.92,311.00 L623.76,311.12 L624.60,311.24 L625.44,311.35 L626.28,311.47 L627.13,311.58 L627.97,311.69 L628.81,311.81 L629.65,311.92 L630.50,312.03 L631.34,312.14 L632.18,312.24 L633.02,312.35 L633.87,312.46 L634.71,312.56 L635.55,312.67 L636.40,312.77 L637.24,312.88 L638.09,312.98 L638.93,313.08 L639.77,313.18 L640.62,313.28 L641.46,313.38 L642.31,313.47 L643.15,313.57 L643.99,313.67 L644.84,313.76 L645.68,313.85 L646.53,313.95 L647.37,314.04 L648.22,314.13 L649.06,314.22 L649.91,314.31 L650.75,314.40 L651.60,314.49 L652.45,314.57 L653.29,314.66 L654.14,314.74 L654.98,314.83 L655.83,314.91 L656.67,314.99 L657.52,315.07 L658.37,315.16 L659.21,315.23 L660.06,315.31 L660.91,315.39 L661.75,315.47 L662.60,315.55 L663.45,315.62 L664.29,315.70 L665.14,315.77 L665.99,315.84 L666.83,315.91 L667.68,315.99 L668.53,316.06 L669.38,316.13 L670.22,316.19 L671.07,316.26 L671.92,316.33 L672.77,316.40 L673.61,316.46 L674.46,316.53 L675.31,316.59 L676.16,316.65 L677.01,316.72 L677.85,316.78 L678.70,316.84 L679.55,316.90 L680.40,316.96 L681.25,317.01 L682.10,317.07 L682.95,317.13 L683.79,317.18 L684.64,317.24 L685.49,317.29 L686.34,317.35 L687.19,317.40 L688.04,317.45 L688.89,317.50 L689.74,317.55 L690.59,317.60 L691.44,317.65 L692.28,317.70 L693.13,317.74 L693.98,317.79 L694.83,317.84 L695.68,317.88 L696.53,317.92 L697.38,317.97 L698.23,318.01 L699.08,318.05 L699.93,318.09 L700.78,318.13 L701.63,318.17 L702.48,318.21 L703.33,318.25 L704.18,318.28 L705.03,318.32 L705.88,318.36 L706.73,318.39 L707.58,318.43 L708.43,318.46 L709.28,318.49 L710.13,318.52 L710.98,318.55 L711.83,318.58 L712.68,318.61 L713.54,318.64 L714.39,318.67 L715.24,318.70 L716.09,318.73 L716.94,318.75 L717.79,318.78 L718.64,318.80 L719.49,318.83 L720.34,318.85 L721.19,318.87 L722.04,318.89 L722.89,318.91 L723.75,318.93 L724.60,318.95 L725.45,318.97 L726.30,318.99 L727.15,319.01 L728.00,319.03 L728.85,319.04 L729.70,319.06 L730.55,319.07 L731.41,319.09 L732.26,319.10 L733.11,319.11 L733.96,319.12 L734.81,319.13 L735.66,319.15 L736.51,319.16 L737.37,319.16 L738.22,319.17 L739.07,319.18 L739.92,319.19 L740.77,319.20 L741.62,319.20 L742.47,319.21 L743.33,319.21 L744.18,319.21 L745.03,319.22 L745.88,319.22 L746.73,319.22 L747.58,319.22 L748.43,319.22 L749.29,319.23 L750.14,319.22 L750.99,319.22 L751.84,319.22 L752.69,319.22 L753.54,319.22 L754.40,319.21 L755.25,319.21 L756.10,319.20 L756.95,319.20 L757.80,319.19 L758.65,319.18 L759.51,319.18 L760.36,319.17 L761.21,319.16 L762.06,319.15 L762.91,319.14 L763.76,319.13 L764.62,319.12 L765.47,319.11 L766.32,319.09 L767.17,319.08 L768.02,319.07 L768.87,319.05 L769.72,319.04 L770.58,319.02 L771.43,319.01 L772.28,318.99 L773.13,318.97 L773.98,318.96 L774.83,318.94 L775.68,318.92 L776.54,318.90 L777.39,318.88 L778.24,318.86 L779.09,318.84 L779.94,318.81 L780.79,318.79 L781.64,318.77 L782.49,318.75 L783.35,318.72 L784.20,318.70 L785.05,318.67 L785.90,318.65 L786.75,318.62 L787.60,318.59 L788.45,318.57 L789.30,318.54 L790.15,318.51 L791.01,318.48 L791.86,318.45 L792.71,318.42" fill="none" stroke="#808000" stroke-width="2.5" stroke-linejoin="round"/>
</g>
<rect x="539.8" y="55.1" width="253.2" height="300.1" fill="none" stroke="#1e1e1e" stroke-width="1.4"/>
<path d="M539.8,322.1h5.5 M539.8,255.4h5.5 M539.8,188.6h5.5 M539.8,121.9h5.5 M539.8,55.1h5.5 M539.8,288.7h3 M539.8,222.0h3 M539.8,155.2h3 M539.8,88.5h3 M539.8,355.2v-5.5 M666.4,355.2v-5.5 M793.0,355.2v-5.5" stroke="#1e1e1e" stroke-width="1.4" fill="none"/>
<g transform="translate(533.20,328.30) scale(1,1)"><text x="0" y="0" font-size="20.5" text-anchor="end">0</text></g>
<g transform="translate(533.20,261.55) scale(1,1)"><text x="0" y="0" font-size="20.5" text-anchor="end">10</text></g>
<g transform="translate(533.20,194.80) scale(1,1)"><text x="0" y="0" font-size="20.5" text-anchor="end">20</text></g>
<g transform="translate(533.20,128.05) scale(1,1)"><text x="0" y="0" font-size="20.5" text-anchor="end">30</text></g>
<g transform="translate(533.20,61.30) scale(1,1)"><text x="0" y="0" font-size="20.5" text-anchor="end">40</text></g>
<text x="525.5" y="381.6" font-size="20.5">10<tspan font-size="12" dy="-12.5">4</tspan></text>
<text x="652.1" y="381.6" font-size="20.5">10<tspan font-size="12" dy="-12.5">5</tspan></text>
<text x="778.7" y="381.6" font-size="20.5">10<tspan font-size="12" dy="-12.5">6</tspan></text>
<path d="M672.8,80.6H722.9" stroke="#000000" stroke-width="2.3"/>
<text x="727.6" y="88.1" font-size="20.5">0nm</text>
<path d="M672.8,106.8H722.9" stroke="#ff0000" stroke-width="2.3"/>
<text x="727.6" y="114.2" font-size="20.5">1nm</text>
<path d="M672.8,132.9H722.9" stroke="#0000ff" stroke-width="2.3"/>
<text x="727.6" y="140.4" font-size="20.5">3nm</text>
<path d="M672.8,159.0H722.9" stroke="#008000" stroke-width="2.3"/>
<text x="727.6" y="166.5" font-size="20.5">5nm</text>
<path d="M672.8,185.2H722.9" stroke="#ff00ff" stroke-width="2.3"/>
<text x="727.6" y="192.7" font-size="20.5">7nm</text>
<path d="M672.8,211.3H722.9" stroke="#808000" stroke-width="2.3"/>
<text x="727.6" y="218.8" font-size="20.5">10nm</text>
<g transform="translate(573.20,417.70) scale(0.776,1)"><text x="0" y="0" font-size="34.5" font-style="italic" style="stroke-width:0.7px">Frequency [Hz]</text></g>
<g transform="translate(490.70,400.00) rotate(-90) scale(0.838,1)"><text x="0" y="0" font-size="32" font-style="italic" style="stroke-width:0.5px">Capacitance density [µF/cm<tspan font-size="20" dy="-11.8">2</tspan><tspan dy="11.8">]</tspan></text></g>
</svg></body></html>
